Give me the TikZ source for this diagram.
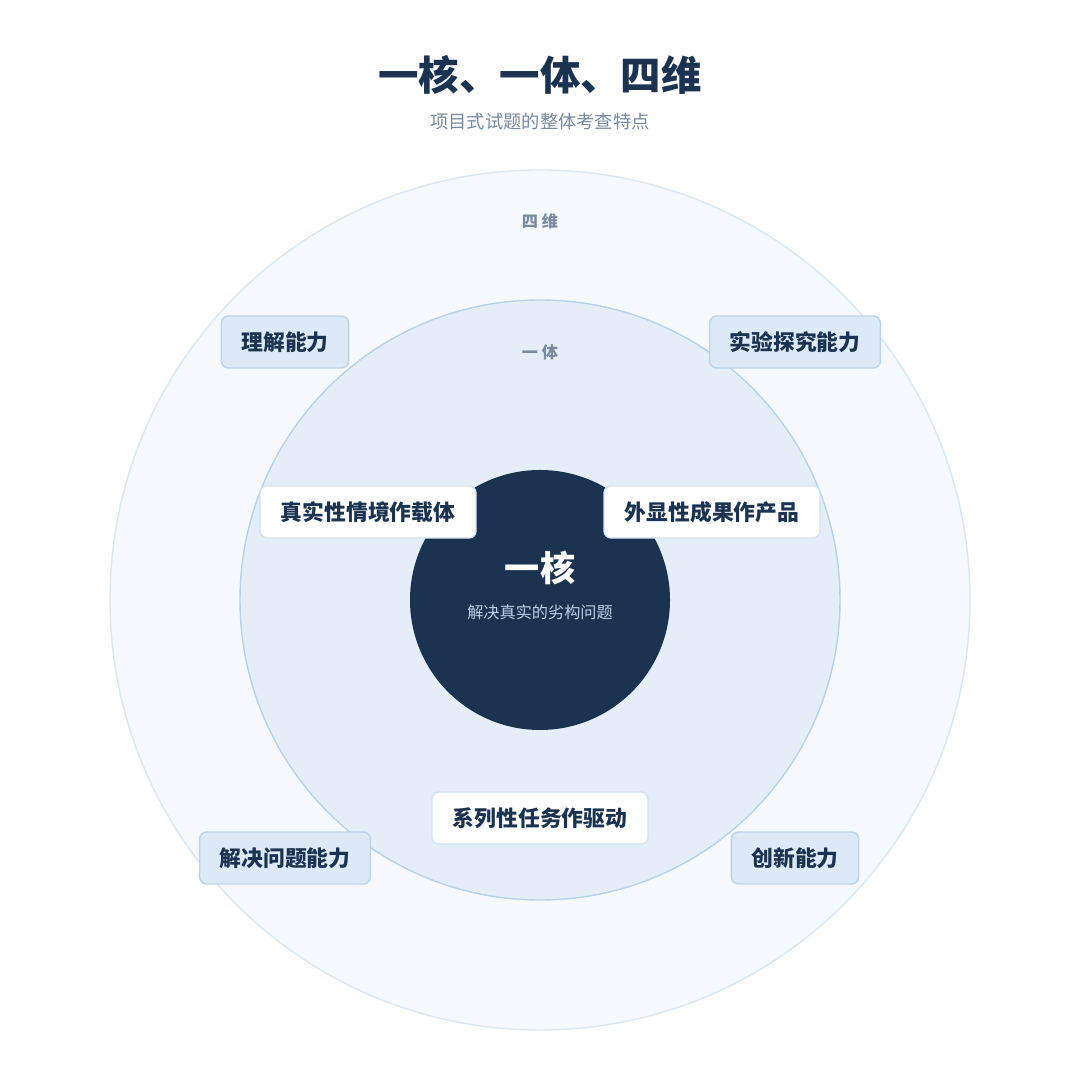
\documentclass[tikz,border=0pt]{standalone}
\usepackage{fontspec}
\setmainfont{Noto Sans CJK SC}
\definecolor{navy}{HTML}{1B3350}
\definecolor{greytext}{HTML}{7A8A9E}
\definecolor{outerfill}{HTML}{F5F9FD}
\definecolor{outerline}{HTML}{DCE7F2}
\definecolor{midfill}{HTML}{E4EEF8}
\definecolor{midline}{HTML}{B9D2E8}
\definecolor{boxfill}{HTML}{DCE9F6}
\definecolor{boxline}{HTML}{BCD3EA}
\definecolor{whiteline}{HTML}{D6E3F0}
\begin{document}
\begin{tikzpicture}[
  ability/.style = {draw=boxline, fill=boxfill, rounded corners=2pt, minimum height=0.52cm, inner xsep=0.2cm, font=\fontsize{6.2}{7}\selectfont\bfseries, text=navy},
  carrier/.style = {draw=whiteline, fill=white, rounded corners=2pt, minimum height=0.52cm, minimum width=2.16cm, font=\fontsize{6.2}{7}\selectfont\bfseries, text=navy},
  ringlabel/.style = {font=\fontsize{4.6}{5}\selectfont\bfseries, text=greytext}]
\useasboundingbox[fill=white] (0,0) rectangle (10.8,10.8);
% rings
\node[circle, draw=outerline, fill=outerfill, minimum size=8.6cm] (outer) at (5.4,4.8) {};
\node[circle, draw=midline, fill=midfill, minimum size=6.0cm] (mid) at (5.4,4.8) {};
\node[circle, fill=navy, minimum size=2.6cm] (core) at (5.4,4.8) {};
% titles
\node[font=\fontsize{11.5}{12}\selectfont\bfseries, text=navy] (title) at (5.4,10.05) {一核、一体、四维};
\node[font=\fontsize{5.2}{6}\selectfont, text=greytext] (subtitle) at (5.4,9.58) {项目式试题的整体考查特点};
\node[ringlabel] (siwei) at (5.4,8.59) {四 维};
\node[ringlabel] (yiti) at (5.4,7.28) {一 体};
\node[font=\fontsize{10}{11}\selectfont\bfseries, text=white] (yihe) at (5.4,5.12) {一核};
\node[font=\fontsize{4.6}{5}\selectfont, text=midline] (yihesub) at (5.4,4.68) {解决真实的劣构问题};
% four abilities
\node[ability] (a1) at (2.85,7.38) {理解能力};
\node[ability] (a2) at (7.95,7.38) {实验探究能力};
\node[ability] (a3) at (2.85,2.22) {解决问题能力};
\node[ability] (a4) at (7.95,2.22) {创新能力};
% carriers
\node[carrier] (c1) at (3.68,5.68) {真实性情境作载体};
\node[carrier] (c2) at (7.12,5.68) {外显性成果作产品};
\node[carrier] (c3) at (5.4,2.62) {系列性任务作驱动};
\end{tikzpicture}
\end{document}
